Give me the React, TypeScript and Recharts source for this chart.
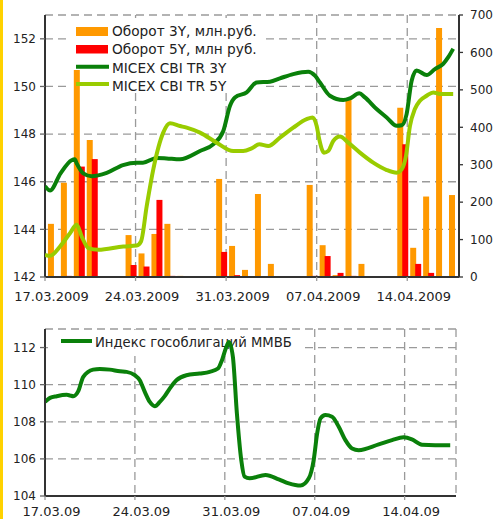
import React from 'react';
import { ComposedChart, LineChart, Bar, Line, XAxis, YAxis, CartesianGrid, Customized } from 'recharts';

// Trading days, counted in days from 17.03.2009
const tradingDays = [0, 1, 2, 3, 6, 7, 8, 9, 10, 13, 14, 15, 16, 17, 20, 21, 22, 23, 24, 27, 28, 29, 30, 31];
const turnover3Y = [142, 252, 553, 366, 112, 63, 115, 142, 3, 262, 83, 19, 222, 35, 246, 85, 5, 477, 35, 452, 78, 215, 665, 219];
const turnover5Y = [0, 3, 295, 315, 32, 28, 206, 3, 0, 67, 5, 0, 0, 0, 3, 56, 11, 3, 0, 355, 35, 11, 0, 0];
const BAR_TIME_OF_DAY = 0.65;

const cbi3YDays = [0, 0.39, 1.2, 2.06, 2.3, 2.45, 2.96, 3.6, 4.77, 6.03, 7.09, 7.57, 8.63, 9.4, 10.43, 11.98, 13.0, 13.78, 14.3, 14.68, 15.59, 16.36, 17.39, 18.16, 19.19, 20.35, 20.87, 21.25, 22.02, 23.05, 23.57, 24.29, 24.73, 25.63, 26.41, 27.18, 27.57, 27.95, 28.34, 28.72, 29.5, 30.14, 30.78, 31.17, 31.55];
const cbi3YValues = [145.81, 145.63, 146.35, 146.9, 146.94, 146.77, 146.35, 146.23, 146.37, 146.7, 146.8, 146.8, 147.0, 146.98, 146.94, 147.29, 147.57, 148.13, 149.19, 149.54, 149.75, 150.17, 150.2, 150.34, 150.52, 150.62, 150.45, 150.17, 149.61, 149.43, 149.5, 149.71, 149.54, 149.05, 148.7, 148.35, 148.37, 148.84, 150.24, 150.67, 150.48, 150.73, 150.95, 151.23, 151.58];

const cbi5YDays = [0, 0.39, 1.16, 1.93, 2.45, 2.84, 3.35, 4.12, 6.05, 7.09, 7.42, 7.86, 8.37, 9.14, 9.66, 10.43, 10.95, 11.98, 13.27, 14.55, 15.32, 15.97, 16.56, 17.26, 18.16, 19.19, 20.22, 20.69, 21.0, 21.2, 21.56, 21.89, 22.28, 22.8, 23.44, 24.34, 25.37, 26.41, 27.18, 27.57, 27.9, 28.21, 28.59, 28.98, 29.5, 30.01, 30.53, 31.55];
const cbi5YValues = [142.93, 142.89, 143.28, 143.84, 144.19, 143.7, 143.21, 143.14, 143.28, 143.32, 143.49, 144.97, 146.52, 148.06, 148.45, 148.34, 148.27, 148.06, 147.64, 147.29, 147.29, 147.4, 147.57, 147.5, 147.85, 148.27, 148.63, 148.7, 148.34, 147.78, 147.22, 147.29, 147.71, 147.9, 147.64, 147.22, 146.8, 146.49, 146.38, 146.52, 147.08, 148.34, 149.05, 149.4, 149.61, 149.75, 149.68, 149.68];

const indexDays = [0, 0.39, 0.91, 1.69, 1.94, 2.2, 2.59, 2.98, 3.75, 4.27, 5.05, 5.83, 6.35, 6.99, 7.38, 7.77, 8.16, 8.55, 8.94, 9.32, 9.71, 10.23, 11.01, 12.04, 12.82, 13.47, 13.73, 14.12, 14.32, 14.63, 14.94, 15.28, 15.54, 15.93, 17.17, 18.2, 18.98, 19.89, 20.54, 20.92, 21.19, 21.45, 21.83, 22.35, 22.87, 23.39, 23.91, 24.42, 25.98, 27.02, 27.92, 28.57, 29.35, 30.38, 31.55];
const indexValues = [109.07, 109.29, 109.38, 109.45, 109.42, 109.38, 109.65, 110.42, 110.81, 110.85, 110.81, 110.72, 110.69, 110.51, 110.24, 109.61, 109.07, 108.84, 109.07, 109.38, 109.79, 110.24, 110.51, 110.6, 110.69, 110.87, 111.23, 112.03, 112.3, 111.49, 108.45, 105.94, 105.04, 104.95, 105.13, 104.9, 104.68, 104.56, 104.95, 105.94, 107.37, 108.18, 108.36, 108.27, 107.73, 107.01, 106.56, 106.47, 106.78, 107.01, 107.16, 107.05, 106.76, 106.74, 106.74];

const dateTicks = [0, 7, 14, 21, 28];
const topTickLabels = ['17.03.2009', '24.03.2009', '31.03.2009', '07.04.2009', '14.04.2009'];
const bottomTickLabels = ['17.03.09', '24.03.09', '31.03.09', '07.04.09', '14.04.09'];
const leftTicks = [142, 144, 146, 148, 150, 152];
const rightTicks = [0, 100, 200, 300, 400, 500, 600, 700];
const indexTicks = [104, 106, 108, 110, 112];
const topLegendLabels = ['Оборот 3Y, млн.руб.', 'Оборот 5Y, млн руб.', 'MICEX CBI TR 3Y', 'MICEX CBI TR 5Y'];
const bottomLegendLabel = 'Индекс гособлигаций ММВБ';

const ORANGE = '#FF9900';
const RED = '#FF0000';
const DARK = '#0A800A';
const LIGHT = '#99CC00';
const TEXT = '#222';
const GRID = '#9a9a9a';

const barRows = tradingDays.map((d, i) => ({ x: d + BAR_TIME_OF_DAY, o: turnover3Y[i], r: turnover5Y[i] }));

const cbiRows = (() => {
  const m = new Map<number, any>();
  cbi3YDays.forEach((d, i) => { const r = m.get(d) || { x: d }; r.a = cbi3YValues[i]; m.set(d, r); });
  cbi5YDays.forEach((d, i) => { const r = m.get(d) || { x: d }; r.b = cbi5YValues[i]; m.set(d, r); });
  return Array.from(m.values()).sort((p, q) => p.x - q.x);
})();

const indexRows = indexDays.map((d, i) => ({ x: d, v: indexValues[i] }));

const makeXTick = (labels: string[], fontSize: number) => (props: any) => {
  const { x, y, payload } = props;
  const i = dateTicks.indexOf(payload.value);
  return (
    <text x={x + 6.5} y={y} dy="0.71em" textAnchor="middle" fontSize={fontSize} fill={TEXT}>
      {labels[i]}
    </text>
  );
};

const topXTick = makeXTick(topTickLabels, 13);
const bottomXTick = makeXTick(bottomTickLabels, 13);

const axisStyle = { stroke: '#333', strokeWidth: 2 };

const TopLegendBox = () => <rect x={69} y={18} width={192} height={71} fill="#fff" />;

const TopLegend = () => (
  <g fontSize={13.7} fill={TEXT}>
    <rect x={76} y={27} width={32} height={9} fill={ORANGE} />
    <rect x={76} y={45} width={32} height={8.5} fill={RED} />
    <line x1={76} x2={109} y1={66.7} y2={66.7} stroke={DARK} strokeWidth={4} />
    <line x1={76} x2={109} y1={84} y2={84} stroke={LIGHT} strokeWidth={4} />
    <text x={112} y={36}>{topLegendLabels[0]}</text>
    <text x={112} y={53.5}>{topLegendLabels[1]}</text>
    <text x={112} y={73}>{topLegendLabels[2]}</text>
    <text x={112} y={90.5}>{topLegendLabels[3]}</text>
  </g>
);

const BottomLegend = () => (
  <g>
    <rect x={48} y={20} width={257} height={26} fill="#fff" />
    <line x1={61} x2={92} y1={31} y2={31} stroke={DARK} strokeWidth={4} />
    <text x={95} y={36.5} fontSize={13.2} fill={TEXT}>{bottomLegendLabel}</text>
  </g>
);

export default function App() {
  return (
    <div style={{ position: 'absolute', left: 0, top: 0, width: 496, height: 519, background: '#fff', fontFamily: '"DejaVu Sans", Verdana, sans-serif', overflow: 'hidden' }}>
      <div style={{ position: 'absolute', left: 0, top: 0 }}>
        <ComposedChart width={496} height={310} data={barRows} margin={{ top: 15, right: 0, bottom: 0, left: 0 }} barGap={-1}>
          <CartesianGrid yAxisId="left" stroke={GRID} strokeDasharray="8 5" strokeWidth={1.3} />
          <Customized component={TopLegendBox} />
          <XAxis type="number" dataKey="x" domain={[0, 32]} ticks={dateTicks} interval={0} height={33} tickSize={4} tickMargin={10.5} tick={topXTick} axisLine={axisStyle} tickLine={{ stroke: GRID, strokeWidth: 1.3 }} allowDataOverflow />
          <YAxis yAxisId="left" domain={[142, 153]} ticks={leftTicks} interval={0} width={45} tickSize={5} tickMargin={4} allowDataOverflow axisLine={axisStyle} tickLine={{ stroke: '#666', strokeWidth: 1.3 }} tick={{ fontSize: 12, fill: TEXT }} />
          <YAxis yAxisId="right" orientation="right" domain={[0, 700]} ticks={rightTicks} interval={0} width={37} tickSize={4} tickMargin={7} allowDataOverflow axisLine={axisStyle} tickLine={{ stroke: '#333', strokeWidth: 1.3 }} tick={{ fontSize: 12, fill: TEXT }} />
          <Bar yAxisId="right" dataKey="o" fill={ORANGE} barSize={6} isAnimationActive={false} />
          <Bar yAxisId="right" dataKey="r" fill={RED} barSize={6} isAnimationActive={false} />
        </ComposedChart>
      </div>
      <div style={{ position: 'absolute', left: 0, top: 0 }}>
        <ComposedChart width={496} height={310} data={cbiRows} margin={{ top: 15, right: 37, bottom: 33, left: 45 }}>
          <XAxis type="number" dataKey="x" domain={[0, 32]} hide allowDataOverflow />
          <YAxis domain={[142, 153]} hide allowDataOverflow />
          <Customized component={TopLegend} />
          <Line dataKey="a" type="monotone" stroke={DARK} strokeWidth={4} dot={false} connectNulls isAnimationActive={false} />
          <Line dataKey="b" type="monotone" stroke={LIGHT} strokeWidth={4} dot={false} connectNulls isAnimationActive={false} />
        </ComposedChart>
      </div>
      <div style={{ position: 'absolute', left: 0, top: 310 }}>
        <LineChart width={496} height={209} data={indexRows} margin={{ top: 19, right: 40, bottom: 0, left: 0 }}>
          <CartesianGrid stroke={GRID} strokeDasharray="8 5" strokeWidth={1.3} />
          <Customized component={BottomLegend} />
          <XAxis type="number" dataKey="x" domain={[0, 32]} ticks={dateTicks} interval={0} height={23} tickSize={4} tickMargin={7} tick={bottomXTick} axisLine={axisStyle} tickLine={{ stroke: GRID, strokeWidth: 1.3 }} allowDataOverflow />
          <YAxis domain={[104, 113]} ticks={indexTicks} interval={0} width={45} tickSize={5} tickMargin={4} allowDataOverflow axisLine={axisStyle} tickLine={{ stroke: '#666', strokeWidth: 1.3 }} tick={{ fontSize: 12, fill: TEXT }} />
          <Line dataKey="v" type="monotone" stroke={DARK} strokeWidth={4} dot={false} isAnimationActive={false} />
        </LineChart>
      </div>
      <div style={{ position: 'absolute', left: 0, top: 0, width: 3, height: 519, background: '#FFD200' }} />
    </div>
  );
}
